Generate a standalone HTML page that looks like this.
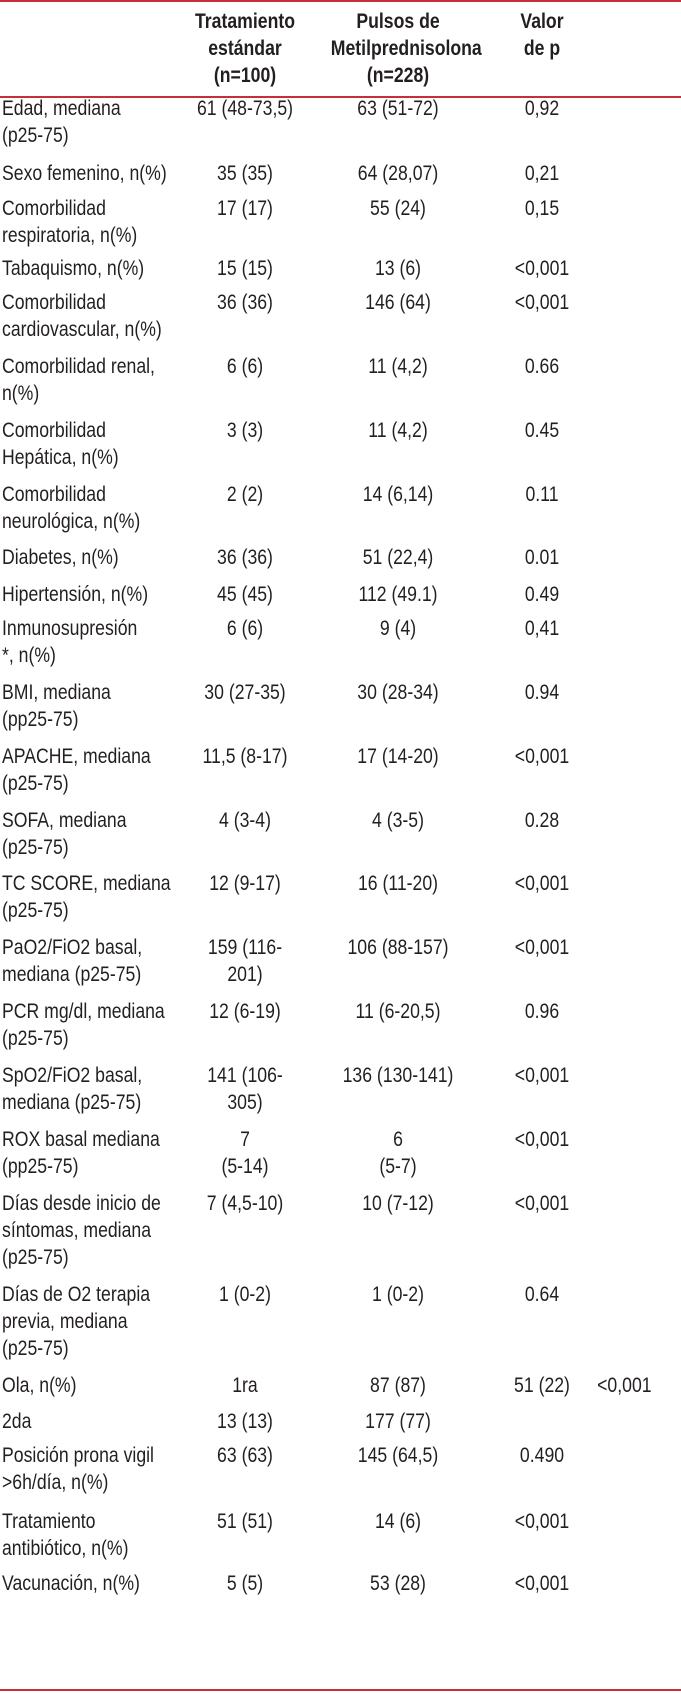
<!DOCTYPE html>
<html><head><meta charset="utf-8">
<style>
html,body{margin:0;padding:0;background:#fff;}
body{width:681px;height:1693px;position:relative;overflow:hidden;font-family:"Liberation Sans",sans-serif;font-size:21px;line-height:27px;color:#231f20;}
.hr{position:absolute;left:0;width:681px;height:2px;background:#c62f38;}
.r{position:absolute;left:0;width:681px;}
.r>div{position:absolute;top:0;white-space:nowrap;transform:scaleX(0.84);}
.l{left:2px;transform-origin:0 0;}
.a{left:170px;width:150px;text-align:center;transform-origin:50% 0;}
.b{left:318px;width:160px;text-align:center;transform-origin:50% 0;}
.c{left:490px;width:104px;text-align:center;transform-origin:50% 0;}
.d{left:592px;width:64px;text-align:center;transform-origin:50% 0;}
.h{font-weight:bold;}
</style></head><body>
<div class="hr" style="top:0"></div>
<div class="hr" style="top:96px"></div>
<div class="hr" style="top:1689px"></div>

<div class="r h" style="top:8px"><div class="a">Tratamiento<br>estándar<br>(n=100)</div><div class="b">Pulsos de<br>Metilprednisolona<br>(n=228)</div><div class="c">Valor<br>de p</div></div>

<div class="r" style="top:95px"><div class="l">Edad, mediana<br>(p25-75)</div><div class="a">61 (48-73,5)</div><div class="b">63 (51-72)</div><div class="c">0,92</div></div>
<div class="r" style="top:160px"><div class="l">Sexo femenino, n(%)</div><div class="a">35 (35)</div><div class="b">64 (28,07)</div><div class="c">0,21</div></div>
<div class="r" style="top:195px"><div class="l">Comorbilidad<br>respiratoria, n(%)</div><div class="a">17 (17)</div><div class="b">55 (24)</div><div class="c">0,15</div></div>
<div class="r" style="top:255px"><div class="l">Tabaquismo, n(%)</div><div class="a">15 (15)</div><div class="b">13 (6)</div><div class="c">&lt;0,001</div></div>
<div class="r" style="top:289px"><div class="l">Comorbilidad<br>cardiovascular, n(%)</div><div class="a">36 (36)</div><div class="b">146 (64)</div><div class="c">&lt;0,001</div></div>
<div class="r" style="top:353px"><div class="l">Comorbilidad renal,<br>n(%)</div><div class="a">6 (6)</div><div class="b">11 (4,2)</div><div class="c">0.66</div></div>
<div class="r" style="top:417px"><div class="l">Comorbilidad<br>Hepática, n(%)</div><div class="a">3 (3)</div><div class="b">11 (4,2)</div><div class="c">0.45</div></div>
<div class="r" style="top:481px"><div class="l">Comorbilidad<br>neurológica, n(%)</div><div class="a">2 (2)</div><div class="b">14 (6,14)</div><div class="c">0.11</div></div>
<div class="r" style="top:544px"><div class="l">Diabetes, n(%)</div><div class="a">36 (36)</div><div class="b">51 (22,4)</div><div class="c">0.01</div></div>
<div class="r" style="top:581px"><div class="l">Hipertensión, n(%)</div><div class="a">45 (45)</div><div class="b">112 (49.1)</div><div class="c">0.49</div></div>
<div class="r" style="top:615px"><div class="l">Inmunosupresión<br>*, n(%)</div><div class="a">6 (6)</div><div class="b">9 (4)</div><div class="c">0,41</div></div>
<div class="r" style="top:679px"><div class="l">BMI, mediana<br>(pp25-75)</div><div class="a">30 (27-35)</div><div class="b">30 (28-34)</div><div class="c">0.94</div></div>
<div class="r" style="top:743px"><div class="l">APACHE, mediana<br>(p25-75)</div><div class="a">11,5 (8-17)</div><div class="b">17 (14-20)</div><div class="c">&lt;0,001</div></div>
<div class="r" style="top:807px"><div class="l">SOFA, mediana<br>(p25-75)</div><div class="a">4 (3-4)</div><div class="b">4 (3-5)</div><div class="c">0.28</div></div>
<div class="r" style="top:870px"><div class="l">TC SCORE, mediana<br>(p25-75)</div><div class="a">12 (9-17)</div><div class="b">16 (11-20)</div><div class="c">&lt;0,001</div></div>
<div class="r" style="top:934px"><div class="l">PaO2/FiO2 basal,<br>mediana (p25-75)</div><div class="a">159 (116-<br>201)</div><div class="b">106 (88-157)</div><div class="c">&lt;0,001</div></div>
<div class="r" style="top:998px"><div class="l">PCR mg/dl, mediana<br>(p25-75)</div><div class="a">12 (6-19)</div><div class="b">11 (6-20,5)</div><div class="c">0.96</div></div>
<div class="r" style="top:1062px"><div class="l">SpO2/FiO2 basal,<br>mediana (p25-75)</div><div class="a">141 (106-<br>305)</div><div class="b">136 (130-141)</div><div class="c">&lt;0,001</div></div>
<div class="r" style="top:1126px"><div class="l">ROX basal mediana<br>(pp25-75)</div><div class="a">7<br>(5-14)</div><div class="b">6<br>(5-7)</div><div class="c">&lt;0,001</div></div>
<div class="r" style="top:1190px"><div class="l">Días desde inicio de<br>síntomas, mediana<br>(p25-75)</div><div class="a">7 (4,5-10)</div><div class="b">10 (7-12)</div><div class="c">&lt;0,001</div></div>
<div class="r" style="top:1281px"><div class="l">Días de O2 terapia<br>previa, mediana<br>(p25-75)</div><div class="a">1 (0-2)</div><div class="b">1 (0-2)</div><div class="c">0.64</div></div>
<div class="r" style="top:1372px"><div class="l">Ola, n(%)</div><div class="a">1ra</div><div class="b">87 (87)</div><div class="c">51 (22)</div><div class="d">&lt;0,001</div></div>
<div class="r" style="top:1408px"><div class="l">2da</div><div class="a">13 (13)</div><div class="b">177 (77)</div></div>
<div class="r" style="top:1442px"><div class="l">Posición prona vigil<br>&gt;6h/día, n(%)</div><div class="a">63 (63)</div><div class="b">145 (64,5)</div><div class="c">0.490</div></div>
<div class="r" style="top:1508px"><div class="l">Tratamiento<br>antibiótico, n(%)</div><div class="a">51 (51)</div><div class="b">14 (6)</div><div class="c">&lt;0,001</div></div>
<div class="r" style="top:1570px"><div class="l">Vacunación, n(%)</div><div class="a">5 (5)</div><div class="b">53 (28)</div><div class="c">&lt;0,001</div></div>
</body></html>
